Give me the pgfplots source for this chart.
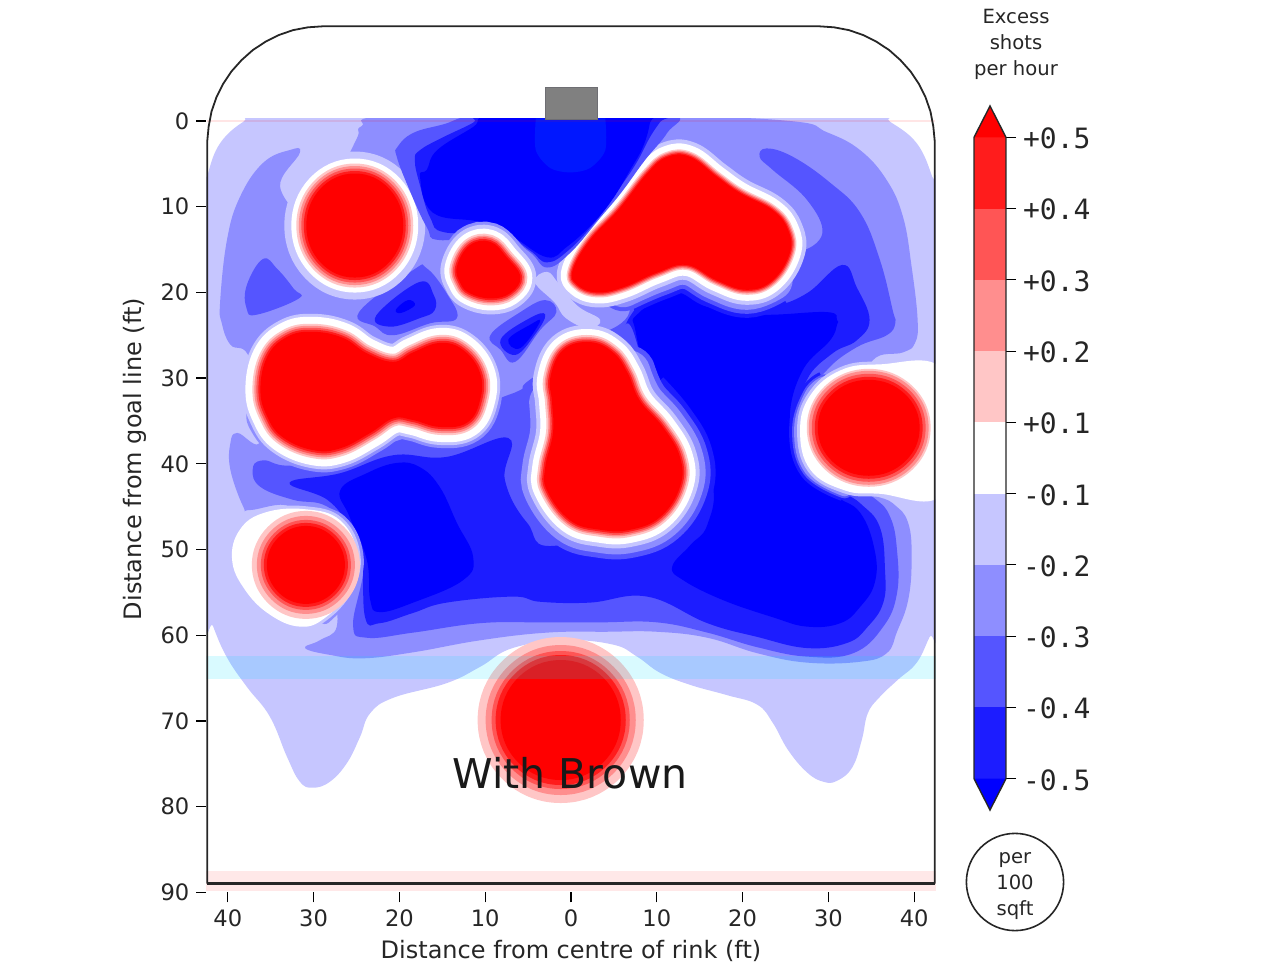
\documentclass[border=0pt]{standalone}
\usepackage{fontspec}
\setmainfont{DejaVu Sans}
\newfontfamily\monof{DejaVu Sans Mono}
\usepackage{pgfplots}
\usepackage{pgfplotstable}
\pgfplotsset{compat=1.18}
\definecolor{B0}{HTML}{0000FF}\definecolor{B1}{HTML}{1C1CFF}\definecolor{B2}{HTML}{5555FF}\definecolor{B3}{HTML}{8E8EFF}\definecolor{B4}{HTML}{C6C6FF}
\definecolor{R0}{HTML}{FF0000}\definecolor{R1}{HTML}{FF1C1C}\definecolor{R2}{HTML}{FF5555}\definecolor{R3}{HTML}{FF8E8E}\definecolor{R4}{HTML}{FFC6C6}
% ---- contour outlines, in feet
\pgfplotstableread{
x y
-42.6 8.5
-42.3 6.1
-40.9 2.6
-38.2 0.1
-36.0 -0.6
-20 -0.7
0 -0.7
20 -0.7
35.5 -0.6
37.2 0.1
40.3 2.6
42.1 6.5
42.6 9
42.8 32.6
42.8 58.2
41.8 60.2
40.3 63.2
38.1 65.2
36.0 67.2
34.6 69.1
33.9 72.2
32.8 75.4
31.0 77.0
29.4 77.1
27.5 76.0
25.3 73.4
23.5 70.2
21.7 68.1
18.2 67.0
13.9 65.8
10.4 64.4
7.7 62.5
4.9 61.1
-0.7 60.6
-6.8 61.5
-10.6 63.7
-14.5 65.6
-20.7 67.3
-23.4 69.1
-24.6 71.9
-26.1 74.9
-28.1 77.1
-30.1 77.8
-31.6 77.1
-33.1 74.2
-35.1 69.5
-37.8 66.0
-40.1 62.6
-41.7 59.0
-42.7 55.9
-42.7 20.9
}\cA
\pgfplotstableread{
x y
-24.9 1.9
-24.4 0.6
-20.3 -0.6
9.2 -0.6
25.5 0
29.8 1.3
33.7 3.4
36.8 6.9
38.7 11.2
39.7 17.0
40.4 23.2
40.1 25.9
38.7 27.0
35.2 27.9
33.7 32.6
33.7 41.9
37.5 44.6
39.3 46.9
39.7 51.2
39.3 55.9
38.0 59.6
36.8 62.1
33.7 63.1
27.5 63.2
21.7 62.1
15.9 60.3
10.0 59.6
4.2 59.6
-2.8 59.7
-10.6 60.6
-18.4 62.0
-24.2 62.7
-28.1 62.3
-31.0 61.5
-29.3 60.6
-27.3 59.0
-28.1 54.7
-31.6 48.9
-32.8 45.0
-37.4 45.4
-38.2 45.0
-39.7 40.7
-39.7 37.6
-38.9 36.4
-36.2 37.2
-37.4 27.9
-39.7 26.1
-40.7 23.6
-40.9 21.2
-40.1 13.9
-38.6 8.9
-35.9 4.9
-32.8 3.4
-31.6 3.7
-33.9 7.7
-30.4 11.0
-26.9 5.7
}\cB
\pgfplotstableread{
x y
-35.9 16.1
-37.8 19.2
-37.8 21.9
-36.6 22.6
-31.7 20.7
-32.3 19.6
-34.2 17.3
}\cCleft
\pgfplotstableread{
x y
22.0 4.2
22.8 3.2
25.9 4.2
30.2 7.2
33.7 10.7
36.0 16.2
37.5 22.1
37.8 23.6
36.8 25.0
33.3 26.4
29.8 29.1
27.9 32.6
30.2 40.7
35.2 43.9
37.2 46.2
38.0 50.1
38.0 55.1
36.4 59.0
32.9 62.1
27.5 62.5
21.7 61.4
15.9 59.7
10.0 58.5
3.4 58.5
-3.6 58.5
-10.6 58.6
-18.4 59.7
-23.8 60.3
-25.4 58.8
-24.2 52.4
-24.9 48.5
-28.4 45.0
-32.4 44.2
-36.2 42.7
-37.1 40.7
-35.9 39.6
-31.6 40.1
-19.9 37.2
-8.9 32.6
-5.9 31.4
-4.8 30.2
2.2 25.6
6.3 23.2
8.0 19.7
15.0 17.4
25.5 12.7
26.7 15.1
29.3 13.1
27.5 9.2
23.5 5.7
}\cC
\pgfplotstableread{
x y
31.6 16.8
33.3 19.4
34.8 23.2
33.3 25.6
30.5 27.1
27.5 30.2
26.7 34.9
30.2 41.9
33.7 44.6
36.0 47.4
36.6 52.4
36.4 56.2
34.6 59.0
32.2 60.9
27.5 61.5
21.7 60.2
15.9 58.6
8.9 55.5
2.2 56.2
-3.6 56.1
-6.8 55.5
-14.5 56.2
-18.4 57.4
-22.3 58.6
-24.0 57.9
-24.4 50.4
-25.8 47.4
-28.4 44.2
-32.8 42.2
-26.9 41.1
-20.7 39.0
-14.5 39.2
-7.3 37.0
-7.7 41.9
-5.1 46.9
-1.3 49.5
13.9 44.2
15.0 36.4
10.0 32.2
7.2 24.4
6.5 23.5
8.9 20.5
11.9 19.4
15.0 20.9
19.7 22.1
23.5 21.7
27.5 20.1
}\cD
\pgfplotstableread{
x y
-26.9 43.1
-23.8 41.1
-20.3 39.9
-17.6 40.4
-15.3 42.7
-13.3 46.9
-11.4 50.9
-12.6 53.6
-18.4 56.2
-22.3 57.3
-23.4 55.9
-23.8 51.2
-25.8 46.2
}\cEa
\pgfplotstableread{
x y
7.7 22.6
11.9 20.0
15.9 21.7
22.0 22.6
29.8 22.3
31.0 23.2
31.0 23.8
30.2 25.6
27.0 29.1
25.5 34.5
26.7 38.7
30.5 43.4
33.7 45.7
35.4 50.1
35.4 53.9
33.7 56.7
31.4 58.6
27.5 59.0
23.5 57.9
17.7 55.9
13.1 53.6
11.8 52.0
13.9 49.5
15.9 47.1
16.4 41.9
12.7 33.7
9.2 30.2
7.5 24.4
}\cEb
% diamonds
\pgfplotstableread{
x y
-24.7 22.3
-18.4 17.4
-16.8 17.2
-14.5 20.1
-13.3 23.0
-16.4 23.6
-20.7 25.0
-22.8 24.0
}\dA
\pgfplotstableread{
x y
-22.7 22.7
-17.7 18.8
-16.0 20.3
-15.9 22.1
-17.6 23.0
-21.1 24.0
}\dB
\pgfplotstableread{
x y
-20.4 22.0
-19.0 20.9
-18.2 21.5
-19.8 22.4
}\dC
\pgfplotstableread{
x y
-9.4 25.0
-5.9 22.3
-3.0 20.9
-1.7 22.3
-3.6 24.4
-6.5 28.1
-8.2 26.7
}\eA
\pgfplotstableread{
x y
-8.2 25.5
-4.8 23.0
-3.0 22.6
-4.2 24.9
-6.5 27.3
}\eB
\pgfplotstableread{
x y
-7.3 25.5
-4.8 23.8
-3.6 23.4
-5.9 26.5
}\eC
% wedge at the goal
\pgfplotstableread{
x y
-20.2 3.0
-18.4 1.4
-14.9 0.4
-10.6 -0.7
0 -0.7
11.8 -0.7
11.2 1.4
8.6 4.6
5.9 8.3
3.4 11.3
-0.1 15.4
-2.8 17.1
-4.8 15.3
-8.3 13.3
-15.3 13.9
-16.8 12.4
-18.8 8.1
-20.3 4.2
}\wA
\pgfplotstableread{
x y
-18.2 4.6
-17.6 3.4
-14.9 1.9
-11.4 0.2
-10.5 -0.7
0 -0.7
11 -0.7
10.4 0.1
9.2 1.9
7.5 5.1
5.1 8.6
2.8 11.8
-0.3 15.1
-2.8 16.5
-4.8 15.1
-8.3 13
-14.7 13
-16.4 11.3
-17.6 7.5
}\wB
\pgfplotstableread{
x y
-16.8 5.7
-15.6 3.4
-11.4 0.7
-9.5 -0.7
0 -0.7
9 -0.7
9.2 0.2
8.4 3.0
6.9 5.7
4.8 9.2
2.4 12.1
-0.5 14.7
-2.8 15.9
-6.8 13.5
-10.6 11.8
-16.1 10.7
-17.6 6.5
}\wC
\pgfplotstableread{
x y
-4.2 18.8
-2.8 17.6
-1.4 19.0
0.8 21.6
3.4 23.2
2.0 24.2
-0.6 23.0
-1.9 21.2
}\cross
% red cores
\pgfplotstableread{
x y
-25.2 6.13
-21.2 7.9
-19.55 12.2
-21.2 16.5
-25.2 18.27
-29.2 16.5
-30.85 12.2
-29.2 7.9
}\pTL
\pgfplotstableread{
x y
-13.3 17.0
-11.8 14.5
-9.4 14.1
-7.5 15.9
-5.9 18.2
-7.1 20.1
-9.4 20.7
-11.8 20.1
-12.9 18.9
}\pS
\pgfplotstableread{
x y
0.2 17.4
2.2 13.9
5.5 10.4
8.9 6.1
11.2 4.2
13.9 4.2
17.0 6.5
19.7 8.4
23.5 10.4
25.3 12.7
25.5 15.4
23.5 18.6
20.5 19.7
17.0 18.6
13.5 16.8
10.0 17.7
6.1 19.4
3.0 20.0
0.7 19.1
}\pTR
\pgfplotstableread{
x y
-36.2 31.4
-35.4 27.5
-33.1 25.2
-30.1 24.6
-26.6 25.3
-23.8 27.1
-20.7 28.1
-18.4 27.0
-15.3 25.9
-12.6 26.7
-10.6 29.4
-10.6 32.6
-12.1 35.2
-15.3 35.7
-18.4 34.9
-20.7 34.7
-23.4 36.4
-26.9 38.2
-30.1 38.4
-33.6 36.9
-35.4 34.5
}\pL
\pgfplotstableread{
x y
2.2 25.8
4.9 27.0
6.6 29.4
8.0 32.6
10.7 35.7
12.7 39.2
12.7 42.7
10.4 46.2
6.9 47.7
3.4 47.7
-0.1 46.6
-2.8 43.1
-3.0 40.4
-2.1 36.4
-2.2 32.9
-2.4 29.9
-0.9 26.7
}\pC
\pgfplotstableread{
x y
34.7 30.2
38.9 31.84
40.64 35.8
38.9 39.76
34.7 41.4
30.5 39.76
28.76 35.8
30.5 31.84
}\pR
\pgfplotstableread{
x y
-30.9 47.25
-27.7 48.6
-26.35 51.8
-27.7 55
-30.9 56.35
-34.1 55
-35.45 51.8
-34.1 48.6
}\pLB
\pgfplotstableread{
x y
-1.2 62.9
3.75 64.95
5.8 69.9
3.75 74.85
-1.2 76.9
-6.15 74.85
-8.2 69.9
-6.15 64.95
}\pB
% white halos that are not circles
\pgfplotstableread{
x y
44 36
43 28.7
36 28.4
31.4 29.1
27.9 32
26.7 36.1
27.9 40.7
31.9 43.1
36 43.5
43 43.8
}\hR
\pgfplotstableread{
x y
-39.5 51.2
-38.6 47.7
-35.7 45.7
-31 45.3
-26.9 46.6
-24.9 50.6
-25.8 54.7
-28.7 58
-31.6 59
-35.1 57.6
-38 54.7
}\hLB
% open stretches where the blue falls off steeply
\pgfplotstableread{
x y
6.6 29.4
8.0 32.6
10.7 35.7
12.7 39.2
12.7 42.7
10.4 46.2
6.9 47.7
3.4 47.7
-0.1 46.6
-2.8 43.1
-3.0 40.4
-2.1 36.4
-2.2 32.9
}\oC
\pgfplotstableread{
x y
8.0 32.6
10.7 35.7
12.7 39.2
12.7 42.7
10.4 46.2
6.9 47.7
3.4 47.7
-0.1 46.6
}\oCb
\pgfplotstableread{
x y
-35.4 34.5
-33.6 36.9
-30.1 38.4
-26.9 38.2
-23.4 36.4
-20.7 34.7
-18.4 34.9
-15.3 35.7
-12.1 35.2
-10.6 32.6
-10.6 29.4
}\oL
\pgfplotstableread{
x y
6.1 19.4
10.0 17.7
13.5 16.8
17.0 18.6
20.5 19.7
23.5 18.6
}\oTR
\pgfplotstableread{
x y
29.5 30.5
27.9 32
26.7 36.1
27.9 40.7
31.9 43.1
}\oR
\pgfplotstableread{
x y
-31 45.3
-26.9 46.6
-24.9 50.6
-25.8 54.7
-28.7 58
}\oLB
\pgfplotstableread{
x y
-13.3 17.0
-11.8 14.5
-9.4 14.1
-7.5 15.9
}\oS
\newcommand{\area}[2]{\addplot[fill=#1,draw=none,tension=0.7,smooth cycle,mark=none] table[x=x,y=y] {#2};}
\newcommand{\ring}[3]{\addplot[draw=#1,line width=#2pt,fill=none,line join=round,tension=0.7,smooth cycle,mark=none] table[x=x,y=y] {#3};}
\newcommand{\arcs}[3]{\addplot[draw=#1,line width=#2pt,fill=none,line cap=round,tension=0.7,smooth,mark=none] table[x=x,y=y] {#3};}
\newcommand{\arcsb}[3]{\addplot[draw=#1,line width=#2pt,fill=none,line cap=butt,tension=0.7,smooth,mark=none] table[x=x,y=y] {#3};}
\newcommand{\bandbar}[3]{\addplot[fill=#1,draw=none,mark=none] coordinates {(0,#2)(1,#2)(1,#3)(0,#3)} --cycle;}
\begin{document}
\begin{tikzpicture}
\useasboundingbox (0,0) rectangle (640pt,483pt);
% ---------- the contour field
\begin{axis}[at={(103.175pt,41.15pt)},anchor=south west,scale only axis,width=364.65pt,height=382.65pt,
  xmin=-42.5,xmax=42.5,ymin=-0.3,ymax=89,y dir=reverse,hide axis,clip=true]
\area{B4}{\cA}
\area{B3}{\cB}
\area{B2}{\cCleft}
\area{B2}{\cC}
\area{B2}{\dA}\area{B1}{\dB}\area{B0}{\dC}
\area{B2}{\eA}\area{B1}{\eB}\area{B0}{\eC}
\area{B1}{\cD}
\area{B0}{\cEa}
\area{B0}{\cEb}
\area{B4}{\cross}
% steep falls
\arcsb{B1}{33}{\oCb}\arcs{B2}{28}{\oC}\arcs{B3}{23}{\oC}
\arcs{B3}{21}{\oL}
\arcsb{B1}{28}{\oTR}\arcs{B2}{24}{\oTR}\arcs{B3}{20}{\oTR}
\arcsb{B1}{11}{\oR}\arcs{B2}{8}{\oR}\arcs{B3}{6}{\oR}
\arcs{B3}{6}{\oLB}
% light halos
\ring{B4}{22}{\pTL}\ring{B4}{18}{\pL}\ring{B4}{17}{\pC}\ring{B4}{15}{\pTR}\ring{B4}{3}{\hR}\ring{B4}{3}{\hLB}
\ring{white}{15}{\pTL}\ring{white}{15}{\pL}\ring{white}{13}{\pC}\ring{white}{11}{\pTR}
\area{white}{\hR}\area{white}{\hLB}
% goal wedge, over the halo of the big blob
\area{B2}{\wA}\area{B1}{\wB}\area{B0}{\wC}
\arcs{B3}{19}{\oS}
\ring{B4}{16}{\pS}\ring{white}{12}{\pS}
% pink rings and red cores
\ring{R4}{10}{\pTL}\ring{R3}{7.5}{\pTL}\ring{R2}{5}{\pTL}\ring{R1}{2.5}{\pTL}\area{R0}{\pTL}
\ring{R4}{7}{\pS}\ring{R3}{5}{\pS}\ring{R2}{3.5}{\pS}\ring{R1}{1.7}{\pS}\area{R0}{\pS}
\ring{R4}{5}{\pTR}\ring{R3}{3.7}{\pTR}\ring{R2}{2.5}{\pTR}\ring{R1}{1.2}{\pTR}\area{R0}{\pTR}
\ring{R4}{8}{\pL}\ring{R3}{6}{\pL}\ring{R2}{4}{\pL}\ring{R1}{2}{\pL}\area{R0}{\pL}
\ring{R4}{7}{\pC}\ring{R3}{5}{\pC}\ring{R2}{3.5}{\pC}\ring{R1}{1.7}{\pC}\area{R0}{\pC}
\ring{R4}{11}{\pR}\ring{R3}{9}{\pR}\ring{R2}{6}{\pR}\ring{R1}{3}{\pR}\area{R0}{\pR}
\ring{R4}{15}{\pLB}\ring{R3}{10}{\pLB}\ring{R2}{6}{\pLB}\ring{R1}{3}{\pLB}\area{R0}{\pLB}
\ring{R4}{23}{\pB}\ring{R3}{15}{\pB}\ring{R2}{9}{\pB}\ring{R1}{5}{\pB}\area{R0}{\pB}
\end{axis}
% ---------- rink, ticks, labels
\begin{axis}[at={(103.175pt,36.85pt)},anchor=south west,scale only axis,width=364.65pt,height=433.65pt,
  xmin=-42.5,xmax=42.5,ymin=-11.2,ymax=90,y dir=reverse,clip=false,
  axis line style={draw=none},xtick pos=bottom,ytick pos=left,tick align=outside,
  major tick length=5pt,tick style={black,line width=0.6pt},
  xtick={-40,-30,-20,-10,0,10,20,30,40},xticklabels={40,30,20,10,0,10,20,30,40},
  ytick={0,10,20,30,40,50,60,70,80,90},yticklabels={0,10,20,30,40,50,60,70,80,90},
  ticklabel style={font=\fontsize{11.3}{13}\selectfont,text=black!85},
  xlabel={Distance from centre of rink (ft)},ylabel={Distance from goal line (ft)},
  every axis x label/.style={at={(axis description cs:0.5,-0.0677)},anchor=center,font=\fontsize{12}{14}\selectfont,text=black!85},
  every axis y label/.style={at={(axis description cs:-0.0978,0.4995)},rotate=90,anchor=center,font=\fontsize{12}{14}\selectfont,text=black!85}]
% blue line and goal lines
\addplot[fill={rgb,255:red,0;green,220;blue,255},fill opacity=0.15,draw=none,mark=none] coordinates {(-42.5,62.4)(42.5,62.4)(42.5,65.1)(-42.5,65.1)} --cycle;
\addplot[fill=red,fill opacity=0.09,draw=none,mark=none] coordinates {(-42.5,87.5)(42.5,87.5)(42.5,89.8)(-42.5,89.8)} --cycle;
\addplot[draw=red,draw opacity=0.1,line width=0.7pt,mark=none] coordinates {(-42.4,0)(42.4,0)};
% crease and goal
\addplot[fill={rgb,255:red,0;green,160;blue,255},fill opacity=0.15,draw=none,smooth,mark=none] coordinates {(-4.1,-0.3)(-4.1,3.4)(-2.4,5.5)(-0.1,6)(2.2,5.5)(4,3.4)(4,-0.3)} --cycle;
\addplot[fill={rgb,255:red,128;green,128;blue,128},draw={rgb,255:red,110;green,110;blue,115},line width=0.4pt,mark=none] coordinates {(-3.0,-3.9)(3.1,-3.9)(3.1,-0.2)(-3.0,-0.2)} --cycle;
% rink boards
\addplot[draw=black!85,line width=0.9pt,mark=none,line join=round] coordinates {(-42.4,89)(-42.4,2.4)(-42.23,0.64)(-41.9,-1.1)(-41.33,-2.75)(-40.55,-4.33)(-39.57,-5.79)(-38.4,-7.1)(-37.09,-8.27)(-35.6,-9.25)(-34.05,-10.03)(-32.4,-10.6)(-30.66,-10.93)(-28.9,-11.05)(28.9,-11.05)(30.66,-10.93)(32.4,-10.6)(34.05,-10.03)(35.6,-9.25)(37.09,-8.27)(38.4,-7.1)(39.57,-5.79)(40.55,-4.33)(41.33,-2.75)(41.9,-1.1)(42.23,0.64)(42.4,2.4)(42.4,89)};
\addplot[draw=black!85,line width=1.3pt,mark=none] coordinates {(-42.4,89)(42.4,89)};
\node[font=\fontsize{20.5}{24}\selectfont,text=black!90] at (axis cs:-0.1,76.1) {With Brown};
\end{axis}
% ---------- colour bar
\begin{axis}[at={(487pt,78pt)},anchor=south west,scale only axis,width=16pt,height=352pt,
  xmin=0,xmax=1,ymin=-0.44,ymax=9.44,clip=false,axis line style={draw=none},
  xtick=\empty,ytick={0,1,2,3,4,5,6,7,8,9},ytick pos=right,yticklabel pos=right,tick align=outside,
  major tick length=5pt,tick style={black,line width=0.6pt},
  yticklabels={-0.5,-0.4,-0.3,-0.2,-0.1,+0.1,+0.2,+0.3,+0.4,+0.5},
  yticklabel style={font=\monof\fontsize{14}{16}\selectfont,text=black!85,yshift=-0.6pt}]
\bandbar{B1}{0}{1}\bandbar{B2}{1}{2}\bandbar{B3}{2}{3}\bandbar{B4}{3}{4}\bandbar{white}{4}{5}
\bandbar{R4}{5}{6}\bandbar{R3}{6}{7}\bandbar{R2}{7}{8}\bandbar{R1}{8}{9}
\addplot[fill=R0,draw=none,mark=none] coordinates {(0,9)(1,9)(0.5,9.44)} --cycle;
\addplot[fill=B0,draw=none,mark=none] coordinates {(0,0)(1,0)(0.5,-0.44)} --cycle;
\addplot[draw=black!85,line width=0.7pt,mark=none] coordinates {(0,0)(0.5,-0.44)(1,0)(1,9)(0.5,9.44)(0,9)} --cycle;
\end{axis}
% ---------- annotations
\node[align=center,font=\fontsize{9.8}{13}\selectfont,text=black!85] at (508pt,460.7pt) {Excess\\shots\\per hour};
\draw[black!85,line width=0.8pt] (507.5pt,42pt) circle (24.3pt);
\node[align=center,font=\fontsize{9.8}{13}\selectfont,text=black!85] at (507.5pt,40pt) {per\\100\\sqft};
\end{tikzpicture}
\end{document}
